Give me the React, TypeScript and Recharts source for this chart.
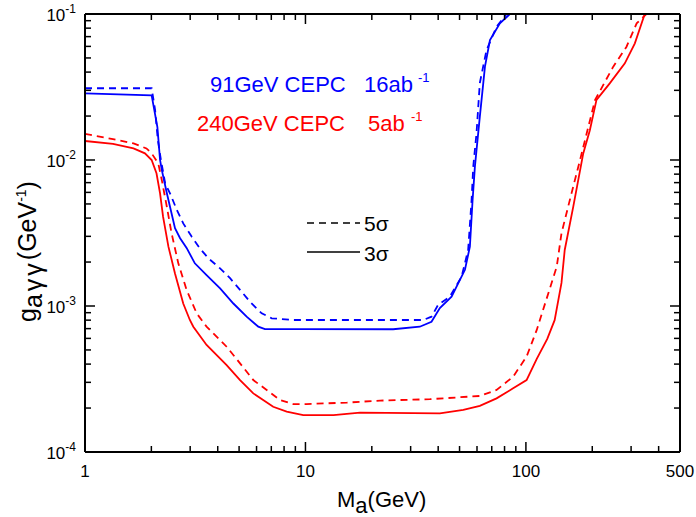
import React from "react";
import { LineChart, Line, XAxis, YAxis, Customized } from "recharts";

// mass (GeV) and coupling g_aγγ (GeV^-1)
const blueSolidMass = [1, 2.006, 2.13, 2.19, 2.23, 2.35, 2.43, 2.56, 2.7, 2.89, 3.15, 3.56, 4.1, 4.71, 5.41, 6.11, 6.55, 9.44, 25.0, 33.0, 37.3, 40.7, 46.0, 52.9, 55.7, 57.3, 58.7, 59.7, 61.8, 65.2, 68.7, 76.2, 84.6];
const blueSolidG = [0.0286, 0.0277, 0.0168, 0.01, 0.00855, 0.00594, 0.00479, 0.00341, 0.00291, 0.0025, 0.00196, 0.00163, 0.00132, 0.00104, 0.000845, 0.000722, 0.000695, 0.000695, 0.000693, 0.000721, 0.00078, 0.000968, 0.00116, 0.00177, 0.00255, 0.00532, 0.009, 0.0117, 0.0198, 0.0436, 0.0664, 0.0863, 0.1];

const blueDashedMass = [1, 2.006, 2.08, 2.14, 2.21, 2.31, 2.43, 2.61, 2.79, 3.05, 3.32, 3.63, 4.1, 4.55, 5.05, 5.6, 6.33, 7.03, 8.81, 34.2, 37.3, 40.0, 45.2, 51.1, 54.7, 56.7, 57.7, 59.7, 61.8, 66.3, 73.6, 81.7];
const blueDashedG = [0.031, 0.031, 0.022, 0.0137, 0.01, 0.00692, 0.00591, 0.00455, 0.00368, 0.00298, 0.00248, 0.00212, 0.00181, 0.00155, 0.00129, 0.00107, 0.000891, 0.000824, 0.000802, 0.000802, 0.000845, 0.00102, 0.00116, 0.00159, 0.00242, 0.00532, 0.009, 0.0153, 0.0337, 0.0567, 0.0818, 0.1];

const redSolidMass = [1, 1.34, 1.66, 1.87, 2.006, 2.11, 2.19, 2.26, 2.39, 2.56, 2.79, 2.99, 3.1, 3.56, 4.39, 5.05, 5.8, 7.14, 8.22, 9.77, 13.4, 17.7, 40.7, 52.0, 61.8, 73.6, 87.5, 100.7, 112, 125, 135, 145, 150, 164, 182, 195, 209, 240, 281, 312, 346];
const redSolidG = [0.0135, 0.0129, 0.012, 0.0111, 0.01, 0.00811, 0.00591, 0.00409, 0.00255, 0.00167, 0.00104, 0.000802, 0.000722, 0.000541, 0.000394, 0.000311, 0.000252, 0.000204, 0.000189, 0.000179, 0.000179, 0.000186, 0.000184, 0.000194, 0.000207, 0.000233, 0.000273, 0.000311, 0.000435, 0.000595, 0.000800, 0.00144, 0.00242, 0.00479, 0.0111, 0.016, 0.0258, 0.0335, 0.0459, 0.063, 0.1];

const redDashedMass = [1, 1.34, 1.66, 1.9, 2.006, 2.15, 2.23, 2.35, 2.47, 2.65, 2.89, 3.21, 3.56, 4.39, 5.05, 5.8, 6.67, 7.66, 8.81, 10.1, 15.4, 21.8, 36.7, 61.8, 73.6, 87.5, 100.7, 112, 138, 145, 161, 176, 192, 206, 249, 286, 318, 352];
const redDashedG = [0.0151, 0.0139, 0.013, 0.012, 0.0111, 0.00948, 0.0073, 0.00479, 0.00315, 0.00196, 0.00129, 0.000891, 0.000722, 0.000526, 0.000405, 0.000311, 0.000266, 0.000227, 0.000213, 0.000213, 0.000218, 0.000225, 0.00023, 0.000242, 0.000266, 0.000328, 0.00045, 0.000686, 0.00186, 0.00315, 0.00591, 0.01, 0.0169, 0.0258, 0.0436, 0.0597, 0.0863, 0.1];

const xTicks = [1, 2, 3, 4, 5, 6, 7, 8, 9, 10, 20, 30, 40, 50, 60, 70, 80, 90, 100, 200, 300, 400, 500];
const xLabels = [1, 10, 100, 500];
const yMantissas = [1, 2, 3, 4, 5, 6, 7, 8, 9];
const yDecades = [0.0001, 0.001, 0.01];
const yTicks = [...yDecades.flatMap((d) => yMantissas.map((m) => m * d)), 0.1];

const zip = (xs: number[], ys: number[]) => xs.map((x, i) => ({ x, y: ys[i] }));

const FONT = "'Liberation Sans', Arial, sans-serif";
const BLUE = "#0000ff";
const RED = "#ff0000";

const isDecade = (v: number) => Math.abs(Math.log10(v) - Math.round(Math.log10(v))) < 1e-6;

const BottomTick = (props: any) => {
  const { x, y, payload } = props;
  const v = payload.value;
  const major = isDecade(v);
  return (
    <g>
      <line x1={x} y1={y} x2={x} y2={y - (major ? 10 : 6)} stroke="#000" strokeWidth={1.5} />
      {xLabels.includes(v) && (
        <text x={x} y={y + 25} textAnchor="middle" fontSize={17} fontFamily={FONT} fill="#000">
          {v}
        </text>
      )}
    </g>
  );
};

const TopTick = (props: any) => {
  const { x, y, payload } = props;
  const major = isDecade(payload.value);
  return <line x1={x} y1={y} x2={x} y2={y + (major ? 10 : 6)} stroke="#000" strokeWidth={1.5} />;
};

const LeftTick = (props: any) => {
  const { x, y, payload } = props;
  const v = payload.value;
  const major = isDecade(v);
  return (
    <g>
      <line x1={x} y1={y} x2={x + (major ? 10 : 6)} y2={y} stroke="#000" strokeWidth={1.5} />
      {major && (
        <text x={x - 9} y={y + 7} textAnchor="end" fontSize={17} fontFamily={FONT} fill="#000">
          10
          <tspan dy={-8} fontSize={12}>{String(Math.round(Math.log10(v)))}</tspan>
        </text>
      )}
    </g>
  );
};

const RightTick = (props: any) => {
  const { x, y, payload } = props;
  const major = isDecade(payload.value);
  return <line x1={x} y1={y} x2={x - (major ? 10 : 6)} y2={y} stroke="#000" strokeWidth={1.5} />;
};

const Annotations = () => (
  <g fontFamily={FONT}>
    <text x={210} y={92} fontSize={22} fill={BLUE}>91GeV CEPC</text>
    <text x={364} y={92} fontSize={22} fill={BLUE}>16ab</text>
    <text x={418} y={82} fontSize={13} fill={BLUE}>-1</text>
    <text x={197} y={131} fontSize={22} fill={RED}>240GeV CEPC</text>
    <text x={368} y={131} fontSize={22} fill={RED}>5ab</text>
    <text x={411} y={121} fontSize={13} fill={RED}>-1</text>

    <line x1={307} y1={223} x2={360} y2={223} stroke="#000" strokeWidth={1.5} strokeDasharray="7 5" />
    <text x={364} y={231} fontSize={21} fill="#000">5σ</text>
    <line x1={307} y1={252} x2={360} y2={252} stroke="#000" strokeWidth={1.5} />
    <text x={364} y={261} fontSize={21} fill="#000">3σ</text>

    <text x={337} y={507} fontSize={22} fill="#000">
      M<tspan dy={6}>a</tspan>
      <tspan dy={-6}>(GeV)</tspan>
    </text>
    <text transform="translate(36,322) rotate(-90)" fontSize={25} fill="#000">
      g<tspan dy={6} letterSpacing={3}>aγγ</tspan>
      <tspan dy={-6}>(GeV</tspan>
      <tspan dy={-10} fontSize={14}>-1</tspan>
      <tspan dy={10}>)</tspan>
    </text>
  </g>
);

const axisLine = { stroke: "#000", strokeWidth: 2 };

export default function App() {
  return (
    <div style={{ position: "absolute", left: 0, top: 0, background: "#fff" }}>
      <LineChart width={696} height={517} margin={{ top: 13, right: 15, bottom: 64, left: 84 }}>
        <XAxis
          xAxisId="bottom"
          dataKey="x"
          type="number"
          scale="log"
          domain={[1, 500]}
          ticks={xTicks}
          interval={0}
          allowDataOverflow
          height={1}
          tickSize={0}
          tickMargin={0}
          tick={<BottomTick />}
          axisLine={axisLine}
        />
        <XAxis
          xAxisId="top"
          orientation="top"
          dataKey="x"
          type="number"
          scale="log"
          domain={[1, 500]}
          ticks={xTicks}
          interval={0}
          allowDataOverflow
          height={1}
          tickSize={0}
          tickMargin={0}
          tick={<TopTick />}
          axisLine={axisLine}
        />
        <YAxis
          yAxisId="left"
          type="number"
          scale="log"
          domain={[0.0001, 0.1]}
          ticks={yTicks}
          interval={0}
          allowDataOverflow
          width={1}
          tickSize={0}
          tickMargin={0}
          tick={<LeftTick />}
          axisLine={axisLine}
        />
        <YAxis
          yAxisId="right"
          orientation="right"
          type="number"
          scale="log"
          domain={[0.0001, 0.1]}
          ticks={yTicks}
          interval={0}
          allowDataOverflow
          width={1}
          tickSize={0}
          tickMargin={0}
          tick={<RightTick />}
          axisLine={axisLine}
        />
        <Line xAxisId="bottom" yAxisId="left" data={zip(blueDashedMass, blueDashedG)} dataKey="y" type="linear" stroke={BLUE} strokeWidth={1.8} strokeDasharray="7 5" dot={false} isAnimationActive={false} />
        <Line xAxisId="bottom" yAxisId="left" data={zip(blueSolidMass, blueSolidG)} dataKey="y" type="linear" stroke={BLUE} strokeWidth={1.8} dot={false} isAnimationActive={false} />
        <Line xAxisId="bottom" yAxisId="left" data={zip(redDashedMass, redDashedG)} dataKey="y" type="linear" stroke={RED} strokeWidth={1.8} strokeDasharray="7 5" dot={false} isAnimationActive={false} />
        <Line xAxisId="bottom" yAxisId="left" data={zip(redSolidMass, redSolidG)} dataKey="y" type="linear" stroke={RED} strokeWidth={1.8} dot={false} isAnimationActive={false} />
        <Line xAxisId="top" yAxisId="right" data={zip(redSolidMass, redSolidG)} dataKey="y" stroke="none" dot={false} legendType="none" isAnimationActive={false} />
        <Customized component={Annotations} />
      </LineChart>
    </div>
  );
}
